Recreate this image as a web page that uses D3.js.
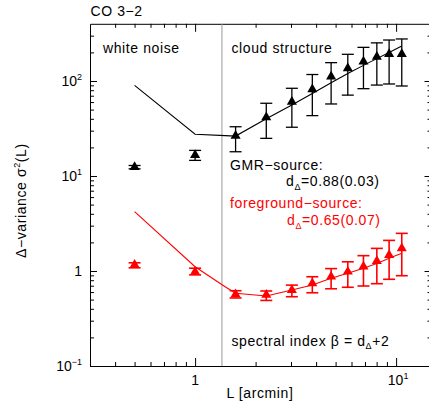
<!DOCTYPE html>
<html>
<head>
<meta charset="utf-8">
<script src="https://cdn.jsdelivr.net/npm/d3@7"></script>
<style>
  body { margin: 0; background: #fff; }
  svg text { font-family: "Liberation Sans", Arial, sans-serif; }
</style>
</head>
<body>
<div id="chart"></div>
<script>
// Data
// --------------------------

// lag sizes (arcmin)
var noiseL = [0.5, 1.0];
var cloudL = [1.59, 2.26, 3.03, 3.83, 4.75, 5.75, 6.88, 8.02, 9.23, 10.67];
var fitL = [0.5, 1.0, 1.41, 1.59, 2.26, 3.03, 3.83, 4.75, 5.75, 6.88, 8.02, 9.23, 10.67];

// GMR-source (black)
var gmrNoise = [12.4, 16.6];
var gmrNoiseLo = [11.9, 14.6];
var gmrNoiseHi = [12.9, 18.6];
var gmrCloud = [26.4, 41.5, 60.5, 81.8, 111, 136, 160, 180, 192, 192];
var gmrCloudLo = [18.0, 24.9, 32.6, 43.2, 57.3, 71, 83, 90.6, 93, 88.6];
var gmrCloudHi = [33.0, 58.3, 83.8, 117, 156, 191, 226, 252, 270, 277];
var gmrFit = [90, 27.5, 26.6, 26.3, 40, 56, 74, 96, 120, 146, 172, 200, 234];

// foreground-source (red)
var fgNoise = [1.16, 0.98];
var fgNoiseLo = [1.08, 0.91];
var fgNoiseHi = [1.22, 1.07];
var fgCloud = [0.569, 0.56, 0.63, 0.742, 0.871, 0.983, 1.11, 1.27, 1.47, 1.73];
var fgCloudLo = [0.52, 0.49, 0.536, 0.59, 0.65, 0.674, 0.695, 0.735, 0.818, 0.892];
var fgCloudHi = [0.62, 0.616, 0.71, 0.87, 1.06, 1.25, 1.45, 1.73, 2.1, 2.49];
var fgFit = [4.21, 1.11, 0.684, 0.582, 0.546, 0.631, 0.712, 0.838, 0.946, 1.07, 1.2, 1.36, 1.54];

// boundary between white noise and cloud structure
var splitL = 1.36;

// ticks
var xMajor = [1, 10];
var xMinor = [0.4, 0.5, 0.6, 0.7, 0.8, 0.9, 2, 3, 4, 5, 6, 7, 8, 9];
var yMajor = [0.1, 1, 10, 100];
var yMinor = [0.2, 0.3, 0.4, 0.5, 0.6, 0.7, 0.8, 0.9, 2, 3, 4, 5, 6, 7, 8, 9,
              20, 30, 40, 50, 60, 70, 80, 90, 200, 300];
var xLabels = [{v: 1, base: "1", sup: ""}, {v: 10, base: "10", sup: "1"}];
var yLabels = [{v: 0.1, base: "10", sup: "\u22121"}, {v: 1, base: "1", sup: ""},
               {v: 10, base: "10", sup: "1"}, {v: 100, base: "10", sup: "2"}];

// Canvas
// --------
var width = 429;
var height = 405;
var plotLeft = 90, plotRight = 431.5, plotTop = 23.8, plotBottom = 366;

var svg = d3.select("#chart")
  .append("svg")
  .attr("width", width)
  .attr("height", height);

var x = d3.scaleLog().domain([0.3, 15]).range([plotLeft, plotRight]);
var y = d3.scaleLog().domain([0.1, 400]).range([plotBottom, plotTop]);

// Axes (ticks drawn inward on all four sides)
function addAxis(axis, tx, ty, showDomain) {
  var g = svg.append("g")
    .attr("transform", "translate(" + tx + "," + ty + ")")
    .call(axis);
  if (!showDomain) g.select(".domain").remove();
  g.selectAll("text").remove();
  g.selectAll("line").attr("stroke", "#000");
  g.select(".domain").attr("stroke", "#000");
}

addAxis(d3.axisBottom(x).tickValues(xMajor).tickSize(-8).tickSizeOuter(0), 0, plotBottom, true);
addAxis(d3.axisBottom(x).tickValues(xMinor).tickSize(-4).tickSizeOuter(0), 0, plotBottom, false);
addAxis(d3.axisTop(x).tickValues(xMajor).tickSize(-8).tickSizeOuter(0), 0, plotTop, true);
addAxis(d3.axisTop(x).tickValues(xMinor).tickSize(-4).tickSizeOuter(0), 0, plotTop, false);
addAxis(d3.axisLeft(y).tickValues(yMajor).tickSize(-7).tickSizeOuter(0), plotLeft, 0, true);
addAxis(d3.axisLeft(y).tickValues(yMinor).tickSize(-4).tickSizeOuter(0), plotLeft, 0, false);
addAxis(d3.axisRight(y).tickValues(yMajor).tickSize(-7).tickSizeOuter(0), plotRight, 0, true);
addAxis(d3.axisRight(y).tickValues(yMinor).tickSize(-4).tickSizeOuter(0), plotRight, 0, false);

// Tick labels with superscripts
xLabels.forEach(function(d) {
  var t = svg.append("text")
    .attr("x", x(d.v) + (d.sup ? 2 : 0))
    .attr("y", 385)
    .attr("text-anchor", "middle")
    .attr("font-size", 14);
  t.append("tspan").text(d.base);
  if (d.sup) t.append("tspan").attr("dy", -6).attr("font-size", 9).text(d.sup);
});

yLabels.forEach(function(d) {
  var t = svg.append("text")
    .attr("x", 82)
    .attr("y", y(d.v) + 5)
    .attr("text-anchor", "end")
    .attr("font-size", 14);
  t.append("tspan").text(d.base);
  if (d.sup) t.append("tspan").attr("dy", -6).attr("font-size", 9).text(d.sup);
});

// Boundary line
svg.append("line")
  .attr("x1", x(splitL)).attr("x2", x(splitL))
  .attr("y1", plotTop).attr("y2", plotBottom)
  .attr("stroke", "#999")
  .attr("stroke-width", 1);

// Fit lines
var line = d3.line()
  .x(function(d) { return x(d[0]); })
  .y(function(d) { return y(d[1]); });

svg.append("path")
  .attr("d", line(d3.zip(fitL, gmrFit)))
  .attr("fill", "none")
  .attr("stroke", "#000")
  .attr("stroke-width", 1.1);

svg.append("path")
  .attr("d", line(d3.zip(fitL, fgFit)))
  .attr("fill", "none")
  .attr("stroke", "#ff0000")
  .attr("stroke-width", 1.1);

// Error bars and triangle markers
var tri = d3.symbol().type(d3.symbolTriangle).size(44);

function drawSeries(ls, vals, lo, hi, color, sw) {
  var pts = ls.map(function(l, i) {
    return {l: l, v: vals[i], lo: lo[i], hi: hi[i]};
  });
  var g = svg.append("g").attr("stroke", color).attr("stroke-width", sw);
  pts.forEach(function(d) {
    var cx = x(d.l);
    g.append("line").attr("x1", cx).attr("x2", cx).attr("y1", y(d.lo)).attr("y2", y(d.hi));
    g.append("line").attr("x1", cx - 6).attr("x2", cx + 6).attr("y1", y(d.lo)).attr("y2", y(d.lo));
    g.append("line").attr("x1", cx - 6).attr("x2", cx + 6).attr("y1", y(d.hi)).attr("y2", y(d.hi));
  });
  svg.append("g").selectAll("path")
    .data(pts)
    .enter()
    .append("path")
    .attr("d", tri)
    .attr("transform", function(d) {
      return "translate(" + x(d.l) + "," + y(d.v) + ")";
    })
    .attr("fill", color);
}

drawSeries(noiseL, gmrNoise, gmrNoiseLo, gmrNoiseHi, "#000", 1.3);
drawSeries(cloudL, gmrCloud, gmrCloudLo, gmrCloudHi, "#000", 1.3);
drawSeries(noiseL, fgNoise, fgNoiseLo, fgNoiseHi, "#ff0000", 1.6);
drawSeries(cloudL, fgCloud, fgCloudLo, fgCloudHi, "#ff0000", 1.6);

// Texts
// ------
var ls = 0.6;

function label(xp, yp, color) {
  return svg.append("text")
    .attr("x", xp).attr("y", yp)
    .attr("font-size", 14)
    .attr("letter-spacing", ls)
    .attr("fill", color || "#000");
}

label(90.5, 16).text("CO 3\u22122");
label(103, 52.5).text("white noise");
label(231.5, 52.5).text("cloud structure");
label(230, 170).text("GMR\u2212source:");

var d1 = label(286, 186);
d1.append("tspan").text("d");
d1.append("tspan").attr("dy", 3.5).attr("font-size", 9).text("\u0394");
d1.append("tspan").attr("dy", -3.5).text("=0.88(0.03)");

label(230, 208, "#ff0000").text("foreground\u2212source:");

var d2 = label(287, 225, "#ff0000");
d2.append("tspan").text("d");
d2.append("tspan").attr("dy", 3.5).attr("font-size", 9).text("\u0394");
d2.append("tspan").attr("dy", -3.5).text("=0.65(0.07)");

var sp = label(231.5, 345.5);
sp.append("tspan").text("spectral index \u03b2 = d");
sp.append("tspan").attr("dy", 3.5).attr("font-size", 9).text("\u0394");
sp.append("tspan").attr("dy", -3.5).text("+2");

// Axis titles
label(226.5, 398).text("L [arcmin]");

var yt = svg.append("text")
  .attr("transform", "translate(25.5,258)rotate(-90)")
  .attr("font-size", 14)
  .attr("letter-spacing", ls);
yt.append("tspan").text("\u0394\u2212variance \u03c3");
yt.append("tspan").attr("dy", -6).attr("font-size", 9).text("2");
yt.append("tspan").attr("dy", 6).text("(L)");
</script>
</body>
</html>
